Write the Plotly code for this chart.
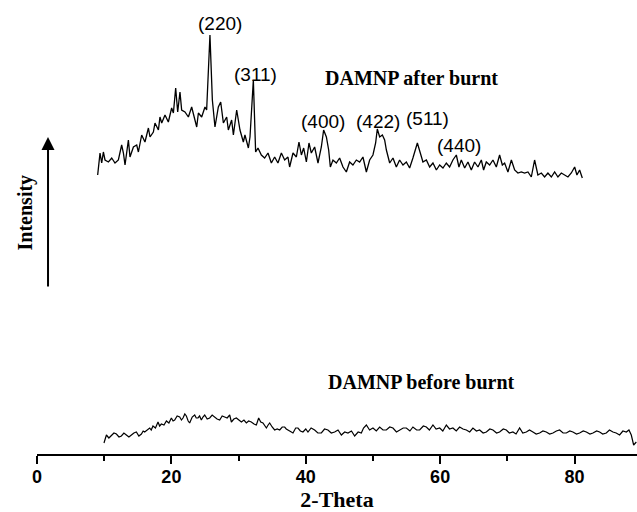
import plotly.graph_objects as go

# ---------------- data ----------------
after_theta = [
    9.03, 9.38, 9.63, 9.88, 10.12, 10.63, 11.12, 11.61, 12.11, 12.60,
    12.86, 13.10, 13.60, 13.84, 14.35, 14.84, 15.09, 15.58, 16.07, 16.58,
    16.82, 17.32, 17.56, 18.07, 18.30, 18.56, 19.05, 19.55, 20.04, 20.30,
    20.64, 20.94, 21.28, 21.53, 22.02, 22.53, 23.02, 23.51, 23.77, 24.02,
    24.51, 25.00, 25.25, 25.74, 26.10, 26.49, 26.99, 27.34, 27.74, 28.23,
    28.48, 28.97, 29.23, 29.72, 30.21, 30.71, 30.95, 31.46, 31.70, 32.20,
    32.54, 32.89, 33.39, 33.88, 34.38, 34.88, 35.37, 35.86, 36.37, 36.86,
    37.35, 37.60, 38.10, 38.60, 38.99, 39.35, 39.69, 40.09, 40.48, 40.83,
    41.32, 41.82, 42.32, 42.66, 43.07, 43.41, 43.66, 44.05, 44.55, 45.04,
    45.54, 46.04, 46.53, 47.02, 47.53, 48.02, 48.51, 49.02, 49.51, 50.00,
    50.40, 50.65, 51.00, 51.40, 51.74, 52.00, 52.49, 52.98, 53.48, 53.97,
    54.47, 54.97, 55.46, 55.95, 56.61, 57.05, 57.44, 57.95, 58.44, 58.93,
    59.44, 59.93, 60.42, 60.92, 61.41, 61.90, 62.41, 62.80, 63.15, 63.65,
    64.14, 64.64, 65.13, 65.63, 66.13, 66.47, 66.87, 67.37, 67.86, 68.36,
    68.85, 69.26, 69.60, 70.09, 70.60, 71.09, 71.58, 72.08, 72.57, 73.07,
    73.57, 74.06, 74.55, 75.06, 75.55, 76.04, 76.55, 77.04, 77.53, 78.04,
    78.53, 79.02, 79.52, 80.02, 80.36, 80.76, 81.16,
]
after_intensity = [
    279, 301, 291, 302, 294, 292, 296, 291, 294, 309,
    301, 289, 314, 297, 307, 309, 302, 319, 312, 326,
    317, 322, 331, 324, 337, 331, 339, 332, 346, 341,
    366, 342, 362, 344, 342, 337, 347, 334, 327, 341,
    337, 347, 344, 419, 354, 327, 347, 352, 331, 337,
    324, 334, 319, 344, 324, 312, 319, 306, 317, 374,
    302, 306, 299, 296, 301, 291, 297, 291, 301, 294,
    297, 287, 301, 297, 312, 299, 306, 292, 311, 301,
    307, 291, 307, 324, 317, 304, 287, 294, 291, 296,
    287, 282, 292, 289, 294, 292, 297, 282, 294, 299,
    311, 325, 317, 319, 314, 304, 291, 296, 287, 294,
    289, 292, 286, 296, 311, 301, 292, 294, 287, 291,
    284, 289, 286, 291, 287, 294, 299, 287, 294, 286,
    292, 284, 292, 287, 294, 284, 292, 289, 294, 287,
    299, 289, 291, 282, 294, 284, 281, 282, 281, 282,
    277, 294, 279, 281, 277, 281, 277, 282, 277, 281,
    279, 277, 281, 287, 279, 284, 276,
]

before_theta = [
    9.97, 10.33, 10.70, 11.07, 11.45, 11.82, 12.20, 12.56, 12.93, 13.30,
    13.68, 14.05, 14.42, 14.79, 15.16, 15.54, 15.80, 16.03, 16.40, 16.77,
    17.00, 17.26, 17.63, 18.01, 18.25, 18.51, 18.90, 19.26, 19.63, 20.00,
    20.25, 20.49, 20.86, 21.24, 21.50, 21.73, 22.00, 22.23, 22.50, 22.72,
    23.10, 23.47, 23.70, 23.96, 24.20, 24.46, 24.70, 24.96, 25.33, 25.70,
    26.07, 26.44, 26.80, 27.19, 27.56, 27.93, 28.30, 28.68, 28.93, 29.30,
    29.67, 30.05, 30.42, 30.80, 31.16, 31.50, 31.90, 32.30, 32.65, 32.99,
    33.30, 33.63, 33.90, 34.14, 34.40, 34.63, 35.00, 35.37, 35.75, 36.12,
    36.50, 36.86, 37.10, 37.35, 37.70, 38.10, 38.50, 38.84, 39.20, 39.58,
    40.00, 40.33, 40.80, 41.32, 41.80, 42.32, 42.80, 43.30, 43.80, 44.30,
    44.80, 45.30, 45.80, 46.28, 46.80, 47.28, 47.80, 48.27, 48.60, 49.02,
    49.50, 50.00, 50.50, 51.00, 51.50, 51.99, 52.50, 52.98, 53.50, 53.97,
    54.50, 54.97, 55.50, 55.95, 56.50, 56.95, 57.50, 57.95, 58.40, 58.93,
    59.40, 59.93, 60.40, 60.92, 61.40, 61.90, 62.40, 62.90, 63.40, 63.90,
    64.40, 64.88, 65.40, 65.88, 66.40, 66.88, 67.40, 67.86, 68.40, 68.85,
    69.40, 69.85, 70.30, 70.83, 71.30, 71.83, 72.30, 72.83, 73.30, 73.81,
    74.30, 74.81, 75.30, 75.80, 76.30, 76.79, 77.30, 77.78, 78.30, 78.78,
    79.30, 79.76, 80.30, 80.76, 81.30, 81.76, 82.30, 82.74, 83.30, 83.74,
    84.20, 84.73, 85.20, 85.72, 86.20, 86.71, 87.20, 87.71, 88.10, 88.45,
    88.80, 89.20,
]
before_intensity = [
    11, 19, 16, 18, 21, 20, 17, 18, 21, 19,
    17, 19, 21, 22, 18, 20, 23, 22, 24, 26,
    24, 28, 26, 32, 28, 30, 29, 33, 31, 36,
    33, 34, 38, 37, 34, 36, 40, 38, 33, 31,
    37, 39, 36, 36, 38, 34, 37, 39, 35, 36,
    39, 37, 35, 34, 38, 37, 36, 39, 32, 35,
    36, 34, 32, 34, 31, 33, 32, 30, 29, 36,
    32, 31, 28, 26, 29, 31, 27, 24, 25, 24,
    27, 27, 25, 24, 22, 21, 26, 26, 23, 22,
    25, 22, 26, 24, 21, 21, 25, 24, 21, 22,
    24, 19, 22, 21, 23, 18, 22, 21, 26, 29,
    24, 26, 23, 27, 24, 24, 27, 26, 22, 24,
    26, 26, 23, 27, 24, 24, 28, 27, 24, 29,
    25, 26, 23, 29, 25, 26, 23, 27, 25, 24,
    22, 26, 23, 24, 21, 22, 25, 24, 21, 22,
    25, 24, 21, 22, 20, 26, 21, 22, 24, 22,
    20, 21, 23, 22, 20, 21, 23, 24, 21, 21,
    23, 22, 20, 21, 23, 22, 20, 21, 23, 22,
    20, 21, 24, 22, 21, 19, 23, 22, 24, 19,
    9, 12,
]
assert len(after_theta) == len(after_intensity), (len(after_theta), len(after_intensity))
assert len(before_theta) == len(before_intensity), (len(before_theta), len(before_intensity))

peak_labels = ["(220)", "(311)", "(400)", "(422)", "(511)", "(440)"]
peak_label_theta = [27.26, 32.5, 42.56, 50.74, 58.18, 62.78]
peak_label_intensity = [431, 380, 333, 333, 336, 309]

series_labels = ["DAMNP after burnt", "DAMNP before burnt"]
series_label_theta = [55.76, 57.2]
series_label_intensity = [376, 72]

x_ticks = [0, 20, 40, 60, 80]

# ---------------- figure ----------------
SERIF = "Liberation Serif, Times New Roman, serif"
SANS = "Liberation Sans, Arial, sans-serif"

fig = go.Figure()
fig.add_trace(go.Scatter(x=after_theta, y=after_intensity, mode="lines",
                         line=dict(color="black", width=1.3), showlegend=False,
                         hoverinfo="skip"))
fig.add_trace(go.Scatter(x=before_theta, y=before_intensity, mode="lines",
                         line=dict(color="black", width=1.2), showlegend=False,
                         hoverinfo="skip"))

annotations = []
for t, x, y in zip(peak_labels, peak_label_theta, peak_label_intensity):
    annotations.append(dict(x=x, y=y, xref="x", yref="y", text=t, showarrow=False,
                            font=dict(family=SANS, size=19, color="black"),
                            xanchor="center", yanchor="middle"))
for t, x, y in zip(series_labels, series_label_theta, series_label_intensity):
    annotations.append(dict(x=x, y=y, xref="x", yref="y", text="<b>" + t + "</b>",
                            showarrow=False,
                            font=dict(family=SERIF, size=20, color="black"),
                            xanchor="center", yanchor="middle"))
# Intensity label + arrow
annotations.append(dict(x=-0.02, y=0.532, xref="paper", yref="paper",
                        text="<b>Intensity</b>", textangle=-90, showarrow=False,
                        font=dict(family=SERIF, size=20, color="black"),
                        xanchor="center", yanchor="middle"))
annotations.append(dict(x=1.64, y=317, ax=1.64, ay=166, xref="x", yref="y",
                        axref="x", ayref="y", text="", showarrow=True,
                        arrowhead=2, arrowsize=1.3, arrowwidth=2,
                        arrowcolor="black", standoff=0, startstandoff=0))

fig.update_layout(
    width=637, height=512,
    margin=dict(l=37, r=0, t=0, b=58, pad=0, autoexpand=False),
    paper_bgcolor="white", plot_bgcolor="white",
    annotations=annotations,
    xaxis=dict(
        range=[0, 89.3], showline=True, linecolor="black", linewidth=2,
        ticks="outside", ticklen=8, tickwidth=2, tickcolor="black",
        tickvals=x_ticks, ticktext=[str(v) for v in x_ticks],
        ticklabelstandoff=-3,
        showgrid=False, zeroline=False,
        tickfont=dict(family=SANS, size=18, color="black", weight="bold"),
        minor=dict(tickvals=[10, 30, 50, 70], ticks="outside", ticklen=5,
                   tickwidth=2, tickcolor="black", showgrid=False),
        title=dict(text="<b>2-Theta</b>", standoff=12,
                   font=dict(family=SERIF, size=22, color="black")),
        automargin=False,
        fixedrange=True,
    ),
    yaxis=dict(range=[0, 454], visible=False, fixedrange=True),
)

fig.write_html(
    "out.html",
    config={"displayModeBar": False},
    post_script="document.body.style.margin='0px';document.body.style.overflow='hidden';",
)
